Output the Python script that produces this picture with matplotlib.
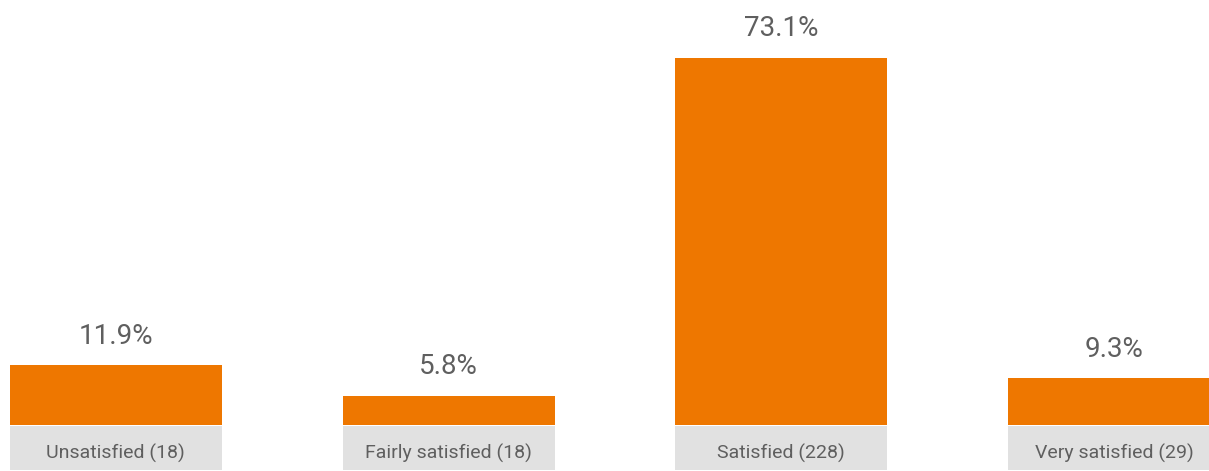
"""Satisfaction survey: share of answers per category."""

import matplotlib
matplotlib.use('Agg')
from matplotlib import pyplot as plt
from matplotlib.patches import Rectangle
import matplotlib.transforms as mtransforms


# Category names and answer counts shown under each bar.
CATEGORIES = ['Unsatisfied', 'Fairly satisfied', 'Satisfied', 'Very satisfied']
COUNTS = [18, 18, 228, 29]
# Share of answers, percent.
SHARES = [11.9, 5.8, 73.1, 9.3]

BAR_COLOR = '#EE7700'
BOX_COLOR = '#E1E1E1'
TEXT_COLOR = '#5F5F5F'
BAR_WIDTH = 0.637

plt.rcParams['font.family'] = ['Roboto', 'DejaVu Sans']


def _main():
    fig = plt.figure(figsize=(12.09, 4.71), dpi=100)
    # axes bottom sits on the bars' base line, labels boxes are drawn below it
    ax = fig.add_axes([0, 46 / 471, 1, 425 / 471])

    x = list(range(len(CATEGORIES)))
    ax.bar(x, SHARES, width=BAR_WIDTH, color=BAR_COLOR)

    for xi, share in zip(x, SHARES):
        ax.annotate('%.1f%%' % share, (xi, share), xytext=(0, 21),
                    textcoords='offset points', ha='center', va='center',
                    fontsize=20, color=TEXT_COLOR)

    # grey label boxes under the bars
    trans = mtransforms.blended_transform_factory(ax.transData, ax.transAxes)
    box_bottom = -45 / 425
    box_height = 44 / 425
    for xi, name, count in zip(x, CATEGORIES, COUNTS):
        ax.add_patch(Rectangle((xi - BAR_WIDTH / 2, box_bottom), BAR_WIDTH, box_height,
                               transform=trans, facecolor=BOX_COLOR, edgecolor='none',
                               clip_on=False))
        ax.text(xi, box_bottom + 17 / 425, '%s (%d)' % (name, count),
                transform=trans, ha='center', va='center', fontsize=14,
                color=TEXT_COLOR)

    ax.set_xlim(-0.348, 3.285)
    ax.set_ylim(0, 84.65)
    ax.axis('off')

    fig.savefig('out.png', dpi=100)


if __name__ == '__main__':
    _main()
